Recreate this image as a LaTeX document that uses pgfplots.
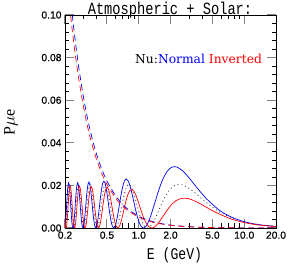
\documentclass[border=0pt]{standalone}
\usepackage{graphicx}
\usepackage{pgfplots}
\pgfplotsset{compat=1.18}
\usepackage{fontspec}
\setmainfont{Liberation Sans}
\newfontfamily\tickf[FakeBold=0.6]{Liberation Sans}
\newfontfamily\monof{Liberation Mono}
\newfontfamily\dserif{DejaVu Serif}
\newfontfamily\lserif{Liberation Serif}
\definecolor{myblue}{RGB}{0,0,255}
\definecolor{myred}{RGB}{255,0,0}
\begin{document}
\begin{tikzpicture}
\useasboundingbox (0,0) rectangle (291bp,265bp);
\begin{axis}[
 at={(65bp,37bp)}, anchor=south west,
 scale only axis, width=211bp, height=213bp,
 xmode=log, xmin=0.2, xmax=20, ymin=0, ymax=0.1,
 xtick={0.2,0.5,1,2,5,10,20},
 xticklabels={0.2,0.5,1.0,2.0,5.0,10.0,20.0},
 minor xtick={0.3,0.4,0.6,0.7,0.8,0.9,3,4,6,7,8,9},
 ytick={0,0.02,0.04,0.06,0.08,0.1},
 yticklabels={0.00,0.02,0.04,0.06,0.08,0.10},
 minor y tick num=4,
 scaled y ticks=false,
 tick align=inside,
 major tick length=9bp, minor tick length=4.5bp,
 major tick style={black!50, line width=1bp},
 minor tick style={black, line width=0.6bp},
 axis line style={line width=0.8bp},
 ticklabel style={font=\tickf\fontsize{10.3bp}{12bp}\selectfont},
]
% vacuum (dotted)
\addplot[black!75, line width=0.9bp, dash pattern=on 0.9bp off 3bp, smooth] coordinates {
(20,0.000732) (19.353,0.000780) (14,0.001474) (12,0.001988) (9.677,0.003002) (6.451,0.006328) (4.838,0.010250) (3.871,0.014172) (3.226,0.017498) (2.765,0.019720) (2.419,0.020500) (2.150,0.019720) (1.935,0.017498) (1.759,0.014172) (1.613,0.010250) (1.489,0.006328) (1.382,0.003002) (1.290,0.000780) (1.210,0)
(1.138,0.000780) (1.075,0.003002) (1.019,0.006328) (0.968,0.010250) (0.922,0.014172) (0.880,0.017498) (0.841,0.019720) (0.806,0.020500) (0.774,0.019720) (0.744,0.017498) (0.717,0.014172) (0.691,0.010250) (0.667,0.006328) (0.645,0.003002) (0.624,0.000780) (0.605,0)
(0.586,0.000780) (0.569,0.003002) (0.553,0.006328) (0.538,0.010250) (0.523,0.014172) (0.509,0.017498) (0.496,0.019720) (0.484,0.020500) (0.472,0.019720) (0.461,0.017498) (0.450,0.014172) (0.440,0.010250) (0.430,0.006328) (0.421,0.003002) (0.412,0.000780) (0.403,0)
(0.395,0.000780) (0.387,0.003002) (0.379,0.006328) (0.372,0.010250) (0.365,0.014172) (0.358,0.017498) (0.352,0.019720) (0.3456,0.020500) (0.3395,0.019720) (0.3337,0.017498) (0.3280,0.014172) (0.3226,0.010250) (0.3173,0.006328) (0.3121,0.003002) (0.3072,0.000780) (0.3024,0)
(0.2977,0.000780) (0.2932,0.003002) (0.2889,0.006328) (0.2846,0.010250) (0.2805,0.014172) (0.2765,0.017498) (0.2726,0.019720) (0.2688,0.020500) (0.2651,0.019720) (0.2615,0.017498) (0.2580,0.014172) (0.2546,0.010250) (0.2513,0.006328) (0.2481,0.003002) (0.2450,0.000780) (0.2419,0)
(0.2389,0.000780) (0.2360,0.003002) (0.2332,0.006328) (0.2304,0.010250) (0.2277,0.014172) (0.2250,0.017498) (0.2224,0.019720) (0.2199,0.020500) (0.2174,0.019720) (0.2150,0.017498) (0.2127,0.014172) (0.2104,0.010250) (0.2081,0.006328) (0.2059,0.003002) (0.2037,0.000780) (0.2016,0) (0.1995,0.000780)
};
% normal (blue)
\addplot[myblue, line width=0.7bp, smooth] coordinates {
(20,0.000740) (15,0.001316) (12,0.002056) (10,0.002951) (7.944,0.004630) (6.5,0.006797) (5.632,0.008862) (4.3625,0.013837) (3.560,0.018932) (3.0069,0.023483) (2.6026,0.026877) (2.2941,0.028641) (2.0509,0.028522) (1.8544,0.026516) (1.6923,0.022886) (1.5562,0.018115) (1.4404,0.012850) (1.3406,0.007804) (1.2537,0.003650) (1.1775,0.000937) (1.1099,0)
(1.0497,0.000917) (0.9957,0.003500) (0.9470,0.007321) (0.9028,0.011775) (0.8626,0.016177) (0.8258,0.019857) (0.7920,0.022260) (0.7609,0.023028) (0.7321,0.022051) (0.7054,0.019484) (0.6806,0.015720) (0.6575,0.011328) (0.6359,0.006970) (0.6156,0.003296) (0.5967,0.000854) (0.5788,0)
(0.5620,0.000849) (0.5461,0.003261) (0.5312,0.006858) (0.5170,0.011084) (0.5035,0.015293) (0.4907,0.018845) (0.4786,0.021199) (0.4671,0.021999) (0.4561,0.021126) (0.4456,0.018716) (0.4355,0.015134) (0.4259,0.010930) (0.4168,0.006739) (0.4080,0.003192) (0.3996,0.000828) (0.3915,0)
(0.3837,0.000826) (0.3763,0.003177) (0.3691,0.006689) (0.3622,0.010824) (0.3555,0.014950) (0.3491,0.018441) (0.3429,0.020763) (0.3370,0.021566) (0.3312,0.020726) (0.3256,0.018375) (0.3202,0.014871) (0.3150,0.010746) (0.3100,0.006629) (0.3051,0.003143) (0.3003,0.000816) (0.2958,0)
(0.2913,0.000815) (0.2870,0.003134) (0.2828,0.006602) (0.2787,0.010688) (0.2748,0.014769) (0.2709,0.018224) (0.2672,0.020527) (0.2635,0.021326) (0.2600,0.020503) (0.2566,0.018184) (0.2532,0.014720) (0.2499,0.010642) (0.2467,0.006567) (0.2436,0.003114) (0.2406,0.000809) (0.2376,0)
(0.2348,0.000808) (0.2320,0.003108) (0.2292,0.006549) (0.2265,0.010604) (0.2239,0.014655) (0.2213,0.018088) (0.2188,0.020377) (0.2164,0.021174) (0.2140,0.020361) (0.2117,0.018061) (0.2094,0.014623) (0.2071,0.010573) (0.2049,0.006525) (0.2028,0.003094) (0.2007,0.000804) (0.1986,0)
};
% inverted (red)
\addplot[myred, line width=0.7bp, smooth] coordinates {
(20,0.000687) (15,0.001194) (12.376,0.001719) (10,0.002553) (7.549,0.004211) (5.4305,0.007200) (4.2406,0.010124) (3.4784,0.012458) (2.9485,0.013800) (2.5587,0.013928) (2.2599,0.012833) (2.0236,0.010713) (1.8320,0.007943) (1.6736,0.005007) (1.5404,0.002418) (1.4268,0.000638) (1.3289,0)
(1.2435,0.000654) (1.1684,0.002542) (1.1019,0.005407) (1.0425,0.008831) (0.9892,0.012300) (0.9411,0.015288) (0.8975,0.017334) (0.8577,0.018120) (0.8213,0.017519) (0.7879,0.015618) (0.7571,0.012704) (0.7286,0.009226) (0.7021,0.005717) (0.6775,0.002721) (0.6546,0.000709) (0.6332,0)
(0.6131,0.000714) (0.5943,0.002754) (0.5766,0.005819) (0.5599,0.009449) (0.5442,0.013093) (0.5293,0.016201) (0.5152,0.018294) (0.5019,0.019054) (0.4892,0.018363) (0.4771,0.016322) (0.4656,0.013241) (0.4547,0.009592) (0.4443,0.005930) (0.4343,0.002817) (0.4247,0.000733) (0.4156,0)
(0.4069,0.000735) (0.3985,0.002832) (0.3905,0.005977) (0.3827,0.009692) (0.3753,0.013414) (0.3682,0.016580) (0.3613,0.018703) (0.3547,0.019462) (0.3483,0.018739) (0.3421,0.016642) (0.3362,0.013490) (0.3305,0.009765) (0.3249,0.006033) (0.3196,0.002865) (0.3144,0.000745) (0.3093,0)
(0.3045,0.000746) (0.2998,0.002873) (0.2952,0.006060) (0.2907,0.009822) (0.2864,0.013588) (0.2823,0.016787) (0.2782,0.018930) (0.2743,0.019690) (0.2704,0.018952) (0.2667,0.016825) (0.2631,0.013634) (0.2596,0.009866) (0.2561,0.006094) (0.2528,0.002892) (0.2495,0.000752) (0.2463,0)
(0.2432,0.000753) (0.2402,0.002898) (0.2373,0.006111) (0.2344,0.009902) (0.2316,0.013697) (0.2289,0.016918) (0.2262,0.019074) (0.2236,0.019836) (0.2210,0.019089) (0.2185,0.016944) (0.2161,0.013728) (0.2137,0.009932) (0.2114,0.006134) (0.2091,0.002911) (0.2068,0.000757) (0.2047,0) (0.2025,0.000757) (0.2004,0.002915) (0.1984,0.006146)
};
% solar terms (dashed)
\addplot[myblue, line width=0.7bp, dash pattern=on 6bp off 4bp, smooth] coordinates {
(0.2,0.1375) (0.21,0.1247) (0.22,0.1136) (0.23,0.1040) (0.24,0.0955) (0.25,0.0880) (0.27,0.0754) (0.3,0.0611) (0.33,0.0505) (0.36,0.0424) (0.4,0.0344) (0.45,0.0272) (0.5,0.0220) (0.6,0.0153) (0.7,0.0112) (0.8,0.00859) (1.0,0.0055) (1.2,0.00382) (1.5,0.00244) (2,0.00138) (3,0.00061) (5,0.00022) (10,0.000055) (20,0.0000138)
};
\addplot[myred, line width=0.7bp, dash pattern=on 6bp off 4bp, smooth] coordinates {
(0.2,0.1275) (0.21,0.1156) (0.22,0.1054) (0.23,0.0964) (0.24,0.0885) (0.25,0.0816) (0.27,0.0700) (0.3,0.0567) (0.33,0.0468) (0.36,0.0394) (0.4,0.0319) (0.45,0.0252) (0.5,0.0204) (0.6,0.0142) (0.7,0.0104) (0.8,0.00797) (1.0,0.0051) (1.2,0.00354) (1.5,0.00227) (2,0.00128) (3,0.00057) (5,0.0002) (10,0.000051) (20,0.0000128)
};
\end{axis}
\node[anchor=base, inner sep=0, font=\monof\fontsize{13.7bp}{14bp}\selectfont] at (170bp,250bp) {\scalebox{1}[1.25]{Atmospheric + Solar:}};
\node[anchor=base, inner sep=0, font=\monof\fontsize{13.1bp}{14bp}\selectfont] at (174.5bp,6bp) {\scalebox{1}[1.25]{E (GeV)}};
\node[rotate=90, inner sep=0, font=\lserif\fontsize{16bp}{18bp}\selectfont] at (11bp,143bp) {P$\mu$e};
\node[anchor=base west, inner sep=0, font=\dserif\fontsize{12.3bp}{14bp}\selectfont] at (135bp,201.5bp) {Nu:\textcolor{myblue}{Normal} \textcolor{myred}{Inverted}};
\end{tikzpicture}
\end{document}
